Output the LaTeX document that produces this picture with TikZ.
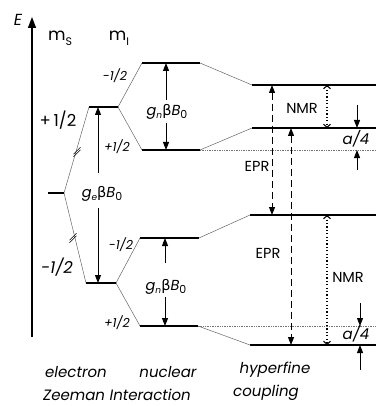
\documentclass[tikz,border=0pt]{standalone}
\usepackage{fontspec}
\setmainfont{Poppins}
\newfontfamily\grkfont{DejaVu Sans}
\usetikzlibrary{arrows.meta}
\newcommand{\gbz}[1]{\textit{g}\raisebox{-0.4ex}{\fontsize{9}{10}\selectfont\textit{#1}}{\grkfont β}\textit{B}\raisebox{-0.4ex}{\fontsize{11}{12}\selectfont 0}}
\tikzset{
  enlevel/.style={line width=2.6pt, draw=black, line cap=butt},
  enlink/.style={line width=0.45pt, draw=black!65},
  enguide/.style={line width=0.6pt, draw=black!55, dash pattern=on 1pt off 0.7pt},
  enaxis/.style={line width=1.3pt, -{Triangle[length=11pt,width=8pt]}},
  enarr/.style={line width=1pt, -{Triangle[length=8pt,width=6pt]}},
  enepr/.style={line width=1pt, dash pattern=on 7pt off 4pt, {Triangle[length=8pt,width=6pt]}-{Triangle[length=8pt,width=6pt]}},
  ennmr/.style={line width=1.1pt, dash pattern=on 1.2pt off 2.2pt, {Straight Barb[length=3pt,width=7pt]}-{Straight Barb[length=3pt,width=7pt]}},
  enbreak/.style={line width=0.5pt, draw=black},
  entext/.style={font=\fontsize{14.5}{16}\selectfont, inner sep=0pt},
  enspin/.style={font=\fontsize{12.5}{14}\selectfont\itshape, inner sep=0pt},
  enlabel/.style={font=\fontsize{15}{17}\selectfont\itshape, inner sep=0pt, align=center},
}

\begin{document}
\begin{tikzpicture}[x=1pt,y=-1pt]
\useasboundingbox (0,0) rectangle (376,406);
\coordinate (ax0) at (32,337);
\coordinate (ax1) at (32,17);
\coordinate (e0l) at (48,193);
\coordinate (e0r) at (64,193);
\coordinate (eul) at (89,107);
\coordinate (eur) at (118,107);
\coordinate (edl) at (86,283);
\coordinate (edr) at (116,283);
\coordinate (n1l) at (142,63);
\coordinate (n1r) at (200,63);
\coordinate (n2l) at (142,150);
\coordinate (n2r) at (200,150);
\coordinate (n3l) at (140,238);
\coordinate (n3r) at (199,238);
\coordinate (n4l) at (140,326);
\coordinate (n4r) at (198,326);
\coordinate (h1l) at (252,85);
\coordinate (h1r) at (376,85);
\coordinate (h2l) at (252,128);
\coordinate (h2r) at (376,128);
\coordinate (h3l) at (250,215);
\coordinate (h3r) at (376,215);
\coordinate (h4l) at (250,345);
\coordinate (h4r) at (376,345);
\coordinate (g2r) at (376,150);
\coordinate (g4r) at (376,326);
\coordinate (eat) at (98,173);
\coordinate (ebt) at (98,208);
\coordinate (nat) at (166,100);
\coordinate (nbt) at (166,123);
\coordinate (nct) at (165,263);
\coordinate (ndt) at (165,297);
\coordinate (qat) at (357,105);
\coordinate (qbt) at (357,170);
\coordinate (qct) at (360,303);
\coordinate (qdt) at (360,370);

\draw[enaxis] (ax0) -- (ax1);
\node[enlabel, font=\fontsize{16}{18}\selectfont\itshape] (elab) at (18,20) {E};
\node[entext, font=\fontsize{17}{18}\selectfont] (ms) at (60,38) {m\raisebox{-0.5ex}{\fontsize{11}{12}\selectfont S}};
\node[entext, font=\fontsize{17}{18}\selectfont] (mi) at (119,38) {m\raisebox{-0.5ex}{\fontsize{11}{12}\selectfont I}};

\draw[enlink] (e0r) -- (eul);
\draw[enlink] (e0r) -- (edl);
\draw[enlink] (eur) -- (n1l);
\draw[enlink] (eur) -- (n2l);
\draw[enlink] (edr) -- (n3l);
\draw[enlink] (edr) -- (n4l);
\draw[enlink] (n1r) -- (h1l);
\draw[enlink] (n2r) -- (h2l);
\draw[enlink] (n3r) -- (h3l);
\draw[enlink] (n4r) -- (h4l);
\draw[enguide] (n2r) -- (g2r);
\draw[enguide] (n4r) -- (g4r);

\foreach \bx/\by in {77/152, 73/238}
  \foreach \d in {-1.3,1.3}
    \draw[enbreak] (\bx-3.5,\by+3.5+\d) -- (\bx+3.5,\by-3.5+\d);

\foreach \lv in {e0,eu,ed,n1,n2,n3,n4,h1,h2,h3,h4}
  \draw[enlevel] (\lv l) -- (\lv r);

\node[entext, font=\fontsize{16.5}{18}\selectfont] (ep) at (58,120) {+\,1/2};
\node[entext, font=\fontsize{16.5}{18}\selectfont\itshape] (em) at (57,267) {-1/2};
\node[enspin] (s1) at (115,76) {-1/2};
\node[enspin] (s2) at (117,147) {+1/2};
\node[enspin] (s3) at (121,245) {-1/2};
\node[enspin] (s4) at (117,323) {+1/2};

\node[entext] (geb) at (102,194) {\gbz{e}};
\draw[enarr] (eat) -- (eat |- eul);
\draw[enarr] (ebt) -- (ebt |- edl);

\node[entext] (gna) at (167,112) {\gbz{n}};
\node[entext] (gnb) at (166,287) {\gbz{n}};
\draw[enarr] (nat) -- (nat |- n1l);
\draw[enarr] (nbt) -- (nbt |- n2l);
\draw[enarr] (nct) -- (nct |- n3l);
\draw[enarr] (ndt) -- (ndt |- n4l);

\draw[enepr] (272,0 |- h1l) -- (272,0 |- h3l);
\draw[enepr] (291,0 |- h2l) -- (291,0 |- h4l);
\node[entext] (epra) at (257,166) {EPR};
\node[entext] (eprb) at (268,253) {EPR};

\draw[ennmr] (327,0 |- h1l) -- (327,0 |- h2l);
\draw[ennmr] (327,0 |- h3l) -- (327,0 |- h4l);
\node[entext] (nmra) at (302,108) {NMR};
\node[entext] (nmrb) at (348,277) {NMR};

\draw[enarr] (qat) -- (qat |- h2l);
\draw[enarr] (qbt) -- (qbt |- g2r);
\draw[enarr] (qct) -- (qct |- g4r);
\draw[enarr] (qdt) -- (qdt |- h4l);
\node[enlabel] (qa) at (356,139) {a/4};
\node[enlabel] (qb) at (356,334) {a/4};

\node[enlabel] (lel) at (76,372) {electron};
\node[enlabel] (lnu) at (168,372) {nuclear};
\node[enlabel] (lhy) at (275,370) {hyperfine};
\node[enlabel] (lze) at (117,395) {Zeeman Interaction};
\node[enlabel] (lco) at (266,393) {coupling};
\end{tikzpicture}
\end{document}
